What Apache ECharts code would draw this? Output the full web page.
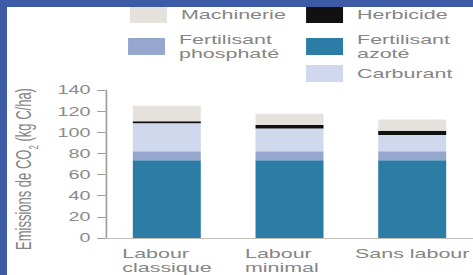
<!DOCTYPE html>
<html>
<head>
<meta charset="utf-8">
<script src="https://cdn.jsdelivr.net/npm/echarts@6/dist/echarts.min.js"></script>
<style>
  html, body { margin: 0; padding: 0; width: 473px; height: 275px; overflow: hidden; background: #fff; }
  /* la figure source est étirée horizontalement : on dessine plus étroit puis on étire */
  #chart { position: absolute; left: 0; top: 0; width: 286.7px; height: 275px; transform: scaleX(1.65); transform-origin: 0 0; }
  .band { position: absolute; background: #3c5aa6; }
</style>
</head>
<body>
<div id="chart"></div>
<div class="band" style="left:0;top:0;width:473px;height:7px"></div>
<div class="band" style="left:0;top:0;width:7px;height:275px"></div>
<script>
// catégories et valeurs (kg C/ha), empilées de bas en haut
const categories = ['Labour\nclassique', 'Labour\nminimal', 'Sans labour'];
const azote = [73.5, 73.5, 73.5];
const phosphate = [8.5, 8.5, 8.5];
const carburant = [26.5, 21.5, 15.5];
const herbicide = [2, 3.5, 4];
const machinerie = [14.5, 10.5, 10.5];
const yMin = 0, yMax = 140, yStep = 20;

const FONT = '"Liberation Sans", Arial, sans-serif';
const TXT = '#858585';

const colors = {
    'Fertilisant azoté': '#2b7da6',
    'Fertilisant phosphaté': '#95a7cd',
    'Carburant': '#cfd8ec',
    'Herbicide': '#111111',
    'Machinerie': '#e5e2de'
};

function bar(name, data) {
    return {
        name: name,
        type: 'bar',
        stack: 'total',
        data: data,
        barWidth: 41.2,
        itemStyle: { color: colors[name] },
        emphasis: { disabled: true }
    };
}

function legendAt(name, left, top) {
    return {
        data: [name],
        left: left,
        top: top,
        padding: 0,
        icon: 'rect',
        itemWidth: 22.4,
        itemHeight: 17,
        itemStyle: { borderWidth: 0 },
        selectedMode: false,
        formatter: n => n.replace('Fertilisant ', 'Fertilisant\n'),
        textStyle: { fontFamily: FONT, fontSize: 13, lineHeight: 14, color: TXT, padding: [0, 0, 0, 3.5] }
    };
}

const chart = echarts.init(document.getElementById('chart'), null, { renderer: 'svg' });

chart.setOption({
    animation: false,
    backgroundColor: '#fff',
    legend: [
        legendAt('Machinerie', 78.8, 6),
        legendAt('Herbicide', 185.5, 6),
        legendAt('Fertilisant phosphaté', 77.6, 32.5),
        legendAt('Fertilisant azoté', 185.5, 32.5),
        legendAt('Carburant', 185.5, 65)
    ],
    grid: { left: 58.8, top: 90, width: 233.6, height: 150, containLabel: false },
    xAxis: {
        type: 'category',
        data: categories,
        axisLine: { lineStyle: { color: '#c6c0ba', width: 1 } },
        axisTick: { show: false },
        axisLabel: {
            margin: 9,
            interval: 0,
            fontFamily: FONT,
            fontSize: 13,
            lineHeight: 14,
            color: TXT,
            formatter: v => v.indexOf('\n') < 0 ? v : v.split('\n').map(l => '{w|' + l + '}').join('\n'),
            rich: { w: { width: 54, align: 'left', fontFamily: FONT, fontSize: 13, lineHeight: 14, color: TXT } }
        }
    },
    yAxis: {
        type: 'value',
        min: yMin,
        max: yMax,
        interval: yStep,
        name: 'Emissions de CO{sub|2} (kg C/ha)',
        nameLocation: 'middle',
        nameRotate: 90,
        nameGap: 42.5,
        nameTextStyle: {
            fontFamily: FONT, fontSize: 13, color: TXT, padding: [0, 10, 0, 0],
            rich: { sub: { fontFamily: FONT, fontSize: 8, color: TXT, verticalAlign: 'bottom', padding: [0, 0, -3, 0] } }
        },
        axisLine: { show: true, lineStyle: { color: '#a09c98', width: 1 } },
        axisTick: { show: true, length: 5, lineStyle: { color: '#a09c98' } },
        axisLabel: { margin: 9, fontFamily: FONT, fontSize: 12, color: '#8a8a8a' },
        splitLine: { show: false }
    },
    series: [
        bar('Fertilisant azoté', azote),
        bar('Fertilisant phosphaté', phosphate),
        bar('Carburant', carburant),
        bar('Herbicide', herbicide),
        bar('Machinerie', machinerie)
    ]
});
</script>
</body>
</html>
